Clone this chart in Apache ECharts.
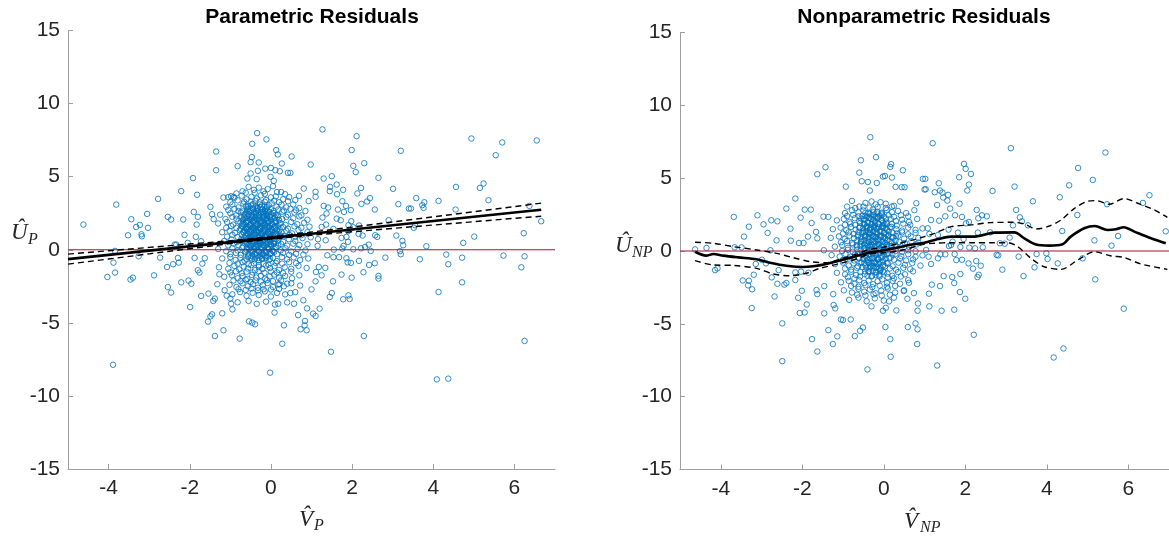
<!DOCTYPE html>
<html>
<head>
<meta charset="utf-8">
<script src="https://cdn.jsdelivr.net/npm/echarts@6/dist/echarts.min.js"></script>
<style>
  html, body { margin: 0; padding: 0; background: #fff; }
  #chart { width: 1169px; height: 541px; }
</style>
</head>
<body>
<div id="chart"></div>
<script>
// ---- parametric panel: scattered residuals ----
var pOuter = [
  [-4.62,1.72],[-3.81,3.09],[-3.89,-7.87],[-4.03,-1.86],[-3.84,-1.56],[-3.88,-0.88],[-3.84,-0.08],[-3.52,0.99],[-3.44,2.09],[-3.32,1.56],
  [-3.23,1.70],[-3.19,1.06],[-3.18,0.92],[-3.05,2.45],[-3.03,1.50],[-3.46,-2.04],[-3.40,-1.91],[-3.26,-0.45],[-2.88,-1.75],[-2.78,3.48],
  [-2.54,2.25],[-2.46,2.07],[-2.37,0.35],[-2.33,0.35],[-2.56,-1.18],[-2.41,-0.99],[-2.54,-2.55],[-2.46,-2.93],[-2.73,-0.54],[-2.29,-0.56],
  [-2.27,-0.88],[-2.21,4.01],[-2.16,2.07],[-2.13,1.02],[-2.21,-2.23],[-2.03,-2.11],[-1.96,-2.32],[-1.99,-3.92],[-1.92,4.90],[-1.82,3.76],
  [-1.90,2.59],[-1.80,2.25],[-1.83,1.72],[-1.85,0.88],[-1.72,0.58],[-2.05,0.47],[-1.88,-0.56],[-1.80,-1.40],[-1.76,-1.56],[-1.72,-3.16],
  [-1.63,-0.58],[-1.69,-0.95],[-1.55,-4.92],[-1.45,-4.42],[-1.49,-4.56],[-1.38,-5.90],[-1.35,6.72],[-1.35,5.44],[-1.49,2.93],[-1.45,2.43],
  [-1.41,2.09],[-1.42,-3.50],[-1.38,-3.34],[-1.54,-3.00],[-1.20,-4.35],[-1.17,-5.51],[-1.32,-2.36],[-1.27,-1.68],[-1.14,-2.77],[-1.09,-3.14],
  [-0.95,-4.08],[-0.98,-3.69],[-1.00,-3.34],[-0.77,-6.08],[-0.82,5.72],[-1.17,3.57],[-0.98,3.66],[-0.92,3.62],[-0.54,-4.90],[-0.46,-4.99],
  [-0.39,-5.10],[-0.34,7.98],[-0.11,7.55],[-0.46,7.25],[-0.02,-8.41],[0.28,-6.43],[0.32,-5.17],[0.09,-4.30],[0.18,-3.69],[0.13,6.82],
  [0.17,6.52],[0.27,5.90],[0.42,5.26],[0.48,5.26],[0.51,6.38],[0.22,5.37],[0.11,5.44],[0.00,5.60],[-0.01,4.99],[0.07,4.71],
  [-0.14,5.55],[-0.47,6.34],[-0.50,5.99],[-0.30,5.97],[-0.32,5.40],[-0.50,5.22],[-0.35,4.83],[-0.58,4.87],[0.98,5.83],[0.81,4.19],
  [0.69,3.69],[0.93,3.33],[0.89,-4.01],[0.80,-3.46],[0.67,-4.47],[0.84,-4.87],[0.73,-5.44],[0.88,-5.51],[0.83,-5.17],[0.57,-3.69],
  [0.48,-2.96],[0.21,-2.36],[0.40,-2.32],
  [1.27,8.23],[2.11,7.77],[1.99,6.82],[2.03,5.74],[2.09,5.31],[2.30,5.92],[3.20,6.77],[1.30,4.87],[1.50,5.03],[2.65,4.92],
  [3.01,4.17],[2.22,4.23],[2.13,3.85],[2.37,3.30],[2.44,3.53],[2.23,3.14],[2.56,2.75],[3.14,3.12],[3.40,2.82],[3.45,2.82],
  [3.58,3.53],[3.73,3.05],[3.78,3.25],[3.76,2.86],[4.13,3.34],[4.56,4.30],[4.55,2.75],[4.94,7.61],[5.15,4.23],[5.24,4.53],
  [5.36,3.39],[5.54,6.47],[5.70,7.34],[6.55,7.48],[6.37,3.00],[6.66,1.95],[6.23,1.13],[5.01,0.90],[4.74,0.47],[5.73,-0.40],
  [6.25,-0.45],[6.17,-1.20],[4.71,-0.54],[4.71,-2.23],[4.32,-0.33],[4.37,-0.99],[4.13,-2.89],[3.83,0.24],[3.67,-0.65],[3.52,1.50],
  [3.55,1.68],[2.90,2.02],[3.09,0.97],[3.24,0.61],[3.26,0.31],[3.18,-0.10],[3.20,-0.31],[2.82,-0.54],[2.65,-1.79],[2.65,-1.97],
  [2.56,-0.92],[2.42,-1.04],[2.28,-1.54],[1.99,-1.91],[1.74,-1.70],[1.53,-2.16],[1.50,-2.96],[1.45,-3.23],[1.78,-3.39],[1.91,-3.12],
  [1.94,-3.37],[2.29,-5.90],[1.48,-6.98],[4.09,-8.87],[4.37,-8.82],[6.25,-6.24],[1.20,-4.03],[1.10,-4.53],[1.04,-4.37],[1.10,-2.16],
  [1.00,-2.71],[1.11,-1.52],[1.18,-1.18],[1.25,-1.75],[1.34,-1.24],[1.39,-0.38],[1.54,-0.51],[1.68,-0.51],[1.86,-0.58],[1.89,-0.86],
  [1.97,-0.90],[2.17,-0.76],[2.46,-0.08],[2.32,0.19],[2.22,0.10],[2.03,0.03],[1.76,0.08],[1.55,0.01],[2.41,0.35],[2.62,0.88],
  [2.57,0.99],[2.26,0.97],[2.16,1.08],[2.17,1.66],[2.03,1.54],[1.91,1.68],[1.90,1.27],[1.97,2.71],[1.85,3.00],[1.76,3.32],
  [1.78,4.10],[1.63,3.80],[1.62,4.46],[1.46,4.30],[1.45,4.01],[1.10,3.96],[1.10,3.62],[1.30,3.00],[1.41,2.89],[1.65,2.75],
  [1.62,2.13],[1.80,2.59],[1.98,1.95],[1.72,2.02],[1.37,2.48],[1.27,2.20],[1.25,1.56],[1.36,1.72],[1.35,0.65],[1.54,1.43],
  [1.74,0.81],[1.90,0.54],[1.86,0.88],[1.79,0.26],[1.16,0.72],[1.15,0.26]
];

var pCore = [
  [-0.55,4.30],[-0.42,4.10],[-0.30,4.25],[-0.18,4.00],[-0.08,4.15],[0.05,4.35],[0.25,3.95],[-0.62,3.90],
  [-0.90,3.55],[-0.72,3.70],[-0.60,3.45],[-0.48,3.62],[-0.35,3.50],[-0.25,3.72],[-0.12,3.40],[0.00,3.58],[0.12,3.65],[0.30,3.45],[0.45,3.60],[-1.05,3.60],
  [-1.10,2.95],[-0.95,3.10],[-0.80,2.90],[-0.68,3.15],[-0.56,2.98],[-0.44,3.12],[-0.33,2.88],[-0.22,3.05],[-0.10,2.92],[0.02,3.18],[0.14,2.95],[0.26,3.08],[0.38,2.90],[0.55,3.10],[0.70,2.85],[-0.50,3.30],[-0.28,3.25],
  [-1.25,2.40],[-1.00,2.50],[-0.86,2.35],[-0.74,2.55],[-0.63,2.42],[-0.53,2.60],[-0.45,2.30],[-0.37,2.50],[-0.29,2.38],[-0.20,2.58],[-0.12,2.45],[-0.04,2.30],[0.06,2.52],[0.16,2.36],[0.28,2.60],[0.42,2.40],[0.58,2.55],[0.75,2.35],[-0.58,2.72],[-0.34,2.75],[-0.15,2.70],
  [-1.30,1.80],[-1.08,1.90],[-0.93,1.72],[-0.80,1.95],[-0.70,1.78],[-0.61,1.88],[-0.52,1.70],[-0.44,1.92],[-0.36,1.76],[-0.28,1.98],[-0.21,1.82],[-0.13,1.70],[-0.05,1.90],[0.04,1.75],[0.13,1.95],[0.24,1.80],[0.36,1.70],[0.50,1.90],[0.65,1.75],[0.82,1.85],[-0.48,2.10],[-0.30,2.15],[-0.10,2.12],[0.10,2.20],[-0.68,2.05],
  [-1.20,1.20],[-1.02,1.30],[-0.88,1.15],[-0.77,1.35],[-0.68,1.22],[-0.59,1.40],[-0.50,1.10],[-0.42,1.32],[-0.34,1.18],[-0.26,1.42],[-0.19,1.25],[-0.11,1.08],[-0.03,1.30],[0.06,1.15],[0.15,1.38],[0.26,1.20],[0.38,1.30],[0.52,1.12],[0.68,1.35],[0.90,1.20],[-0.55,1.55],[-0.38,1.58],[-0.22,1.60],[-0.05,1.55],[0.10,1.58],[-0.72,1.60],
  [-1.15,0.60],[-0.97,0.70],[-0.84,0.52],[-0.73,0.75],[-0.64,0.62],[-0.55,0.80],[-0.47,0.50],[-0.39,0.72],[-0.31,0.58],[-0.23,0.82],[-0.16,0.65],[-0.08,0.50],[0.00,0.78],[0.09,0.60],[0.19,0.85],[0.30,0.55],[0.44,0.72],[0.60,0.60],[0.78,0.80],[-0.60,0.95],[-0.42,0.92],[-0.26,0.98],[-0.10,0.92],[0.05,1.00],[0.22,0.95],
  [-1.30,0.05],[-1.10,-0.10],[-0.95,0.12],[-0.82,-0.05],[-0.71,0.15],[-0.62,-0.12],[-0.53,0.08],[-0.45,-0.06],[-0.37,0.18],[-0.29,-0.10],[-0.21,0.10],[-0.13,-0.15],[-0.05,0.05],[0.04,-0.08],[0.13,0.16],[0.24,-0.04],[0.36,0.10],[0.50,-0.12],[0.66,0.06],[0.85,-0.05],[-0.50,0.32],[-0.33,0.35],[-0.17,0.30],[0.00,0.38],[0.18,0.28],
  [-1.20,-0.60],[-1.00,-0.50],[-0.87,-0.70],[-0.75,-0.55],[-0.65,-0.75],[-0.56,-0.48],[-0.47,-0.66],[-0.38,-0.52],[-0.30,-0.72],[-0.22,-0.58],[-0.14,-0.45],[-0.05,-0.68],[0.05,-0.55],[0.15,-0.78],[0.27,-0.50],[0.40,-0.65],[0.56,-0.52],[0.72,-0.70],[0.92,-0.60],[-0.40,-0.30],[-0.20,-0.32],[0.00,-0.28],
  [-1.28,-1.20],[-1.05,-1.30],[-0.90,-1.10],[-0.78,-1.35],[-0.67,-1.15],[-0.57,-1.28],[-0.48,-1.05],[-0.39,-1.40],[-0.30,-1.18],[-0.21,-1.32],[-0.12,-1.08],[-0.02,-1.25],[0.09,-1.12],[0.20,-1.38],[0.34,-1.20],[0.50,-1.30],[0.68,-1.10],[0.88,-1.25],
  [-1.15,-1.85],[-0.96,-1.75],[-0.82,-1.95],[-0.70,-1.80],[-0.58,-2.00],[-0.47,-1.72],[-0.36,-1.90],[-0.25,-1.78],[-0.14,-1.98],[-0.03,-1.82],[0.08,-1.70],[0.20,-1.92],[0.35,-1.80],[0.52,-1.95],[0.70,-1.75],
  [-1.02,-2.40],[-0.85,-2.55],[-0.70,-2.30],[-0.57,-2.50],[-0.44,-2.35],[-0.32,-2.60],[-0.20,-2.42],[-0.08,-2.28],[0.05,-2.55],[0.18,-2.38],[0.32,-2.50],[0.50,-2.30],[0.72,-2.45],
  [-0.95,-3.05],[-0.76,-2.90],[-0.60,-3.15],[-0.45,-2.95],[-0.30,-3.10],[-0.15,-2.85],[0.00,-3.20],[0.15,-2.95],[0.35,-3.05],[0.60,-2.90],
  [-0.82,-3.60],[-0.55,-3.50],[-0.35,-3.70],[-0.12,-3.55],[0.10,-3.75],[0.40,-3.60],
  [-0.66,2.20],[-0.57,2.00],[-0.49,2.25],[-0.41,2.05],[-0.33,2.28],[-0.24,1.95],[-0.17,2.30],[-0.08,2.00],[0.02,2.22],[-0.62,1.45],
  [-0.52,1.30],[-0.45,1.50],[-0.37,1.35],[-0.30,1.50],[-0.23,1.05],[-0.15,1.48],[-0.07,1.22],[0.01,1.42],[0.12,1.05],[-0.58,0.40],
  [-0.50,0.62],[-0.43,0.40],[-0.35,0.52],[-0.27,0.38],[-0.19,0.50],[-0.11,0.35],[-0.02,0.55],[0.08,0.40],[-0.45,2.85],[-0.36,2.62],
  [-0.26,2.90],[-0.18,2.52],[-0.58,2.90],[-0.08,2.65],[-0.40,1.00],[-0.30,0.85],[-0.20,1.12],[-0.12,0.85],[-0.48,0.88],[-0.56,1.05]
];

// medium-density ring around the blob
var pMid = [
  [-0.85,3.85],[-0.70,4.00],[-0.40,3.90],[-0.15,3.82],[0.15,3.95],[0.35,3.80],
  [-1.00,3.25],[-0.82,3.38],[-0.66,3.28],[-0.38,3.35],[-0.15,3.28],[0.08,3.36],[0.20,3.25],[0.42,3.32],[0.60,3.40],
  [-1.05,2.72],[-0.90,2.80],[-0.80,2.65],[0.18,2.75],[0.32,2.68],[0.48,2.80],[0.62,2.70],[0.85,2.65],
  [-1.12,2.10],[-0.95,2.25],[-0.85,2.12],[0.28,2.10],[0.38,2.25],[0.55,2.15],[0.70,2.28],[0.90,2.05],
  [-1.10,1.50],[-0.98,1.62],[-0.85,1.50],[0.30,1.55],[0.42,1.45],[0.58,1.60],[0.75,1.50],[0.95,1.58],
  [-1.08,0.90],[-0.95,1.02],[-0.82,0.88],[0.32,0.92],[0.45,1.02],[0.60,0.88],[0.75,1.00],[0.98,0.85],
  [-1.05,0.30],[-0.92,0.42],[-0.80,0.30],[0.25,0.40],[0.40,0.28],[0.55,0.42],[0.70,0.32],[0.90,0.38],
  [-1.00,-0.30],[-0.86,-0.22],[-0.74,-0.35],[0.15,-0.30],[0.30,-0.22],[0.45,-0.35],[0.62,-0.28],[0.80,-0.33],
  [-1.02,-0.90],[-0.82,-0.95],[-0.70,-0.85],[0.12,-0.90],[0.28,-0.95],[0.45,-0.85],[0.62,-0.92],
  [-1.00,-1.55],[-0.86,-1.48],[-0.72,-1.60],[-0.60,-1.50],[-0.45,-1.55],[-0.30,-1.48],[-0.16,-1.58],[0.00,-1.50],[0.15,-1.55],[0.30,-1.60],[0.50,-1.50],
  [-0.92,-2.10],[-0.75,-2.15],[-0.62,-2.05],[-0.50,-2.20],[-0.38,-2.10],[-0.25,-2.18],[-0.10,-2.08],[0.05,-2.15],[0.25,-2.10],
  [-0.80,-2.70],[-0.62,-2.75],[-0.48,-2.65],[-0.32,-2.78],[-0.18,-2.70],[0.00,-2.72],[0.20,-2.68]
];

// the solid blue blob in the middle of the parametric cloud
var pDense = [
  [-0.62,2.98],[-0.48,3.05],[-0.38,2.95],[-0.27,3.10],[-0.16,2.97],[-0.05,3.04],
  [-0.56,2.80],[-0.44,2.78],[-0.33,2.84],[-0.21,2.76],[-0.10,2.82],[0.00,2.78],
  [-0.70,2.62],[-0.60,2.55],[-0.51,2.68],[-0.42,2.58],[-0.33,2.66],[-0.24,2.55],[-0.14,2.63],[-0.04,2.57],[0.07,2.64],
  [-0.66,2.40],[-0.56,2.45],[-0.47,2.37],[-0.37,2.43],[-0.28,2.35],[-0.19,2.44],[-0.09,2.36],[0.01,2.42],[0.12,2.38],
  [-0.72,2.24],[-0.63,2.15],[-0.55,2.30],[-0.46,2.18],[-0.38,2.22],[-0.29,2.12],[-0.20,2.26],[-0.11,2.16],[-0.02,2.25],[0.08,2.14],[0.18,2.28],
  [-0.70,2.00],[-0.60,1.96],[-0.51,2.04],[-0.43,1.97],[-0.34,2.03],[-0.26,1.95],[-0.17,2.05],[-0.09,1.96],[0.00,2.02],[0.10,1.95],[0.20,2.03],
  [-0.75,1.84],[-0.66,1.78],[-0.57,1.86],[-0.49,1.76],[-0.40,1.83],[-0.32,1.74],[-0.24,1.88],[-0.16,1.79],[-0.07,1.85],[0.02,1.77],[0.11,1.86],[0.21,1.80],
  [-0.70,1.60],[-0.61,1.55],[-0.52,1.64],[-0.44,1.56],[-0.36,1.62],[-0.27,1.54],[-0.19,1.65],[-0.10,1.57],[-0.02,1.63],[0.07,1.55],[0.17,1.62],
  [-0.74,1.42],[-0.65,1.35],[-0.56,1.46],[-0.48,1.38],[-0.40,1.44],[-0.31,1.36],[-0.23,1.47],[-0.15,1.37],[-0.06,1.43],[0.03,1.35],[0.12,1.46],[0.22,1.40],
  [-0.68,1.20],[-0.60,1.15],[-0.51,1.24],[-0.42,1.16],[-0.34,1.22],[-0.26,1.14],[-0.17,1.25],[-0.08,1.16],[0.01,1.22],[0.10,1.14],[0.19,1.23],
  [-0.72,1.02],[-0.63,0.95],[-0.55,1.06],[-0.46,0.97],[-0.38,1.04],[-0.30,0.96],[-0.21,1.05],[-0.13,0.97],[-0.04,1.03],[0.05,0.94],[0.14,1.05],[0.24,0.98],
  [-0.66,0.80],[-0.57,0.75],[-0.48,0.84],[-0.40,0.76],[-0.31,0.82],[-0.23,0.74],[-0.14,0.85],[-0.05,0.76],[0.04,0.82],[0.14,0.74],
  [-0.70,0.62],[-0.61,0.55],[-0.52,0.66],[-0.44,0.57],[-0.36,0.64],[-0.27,0.55],[-0.19,0.66],[-0.10,0.57],[-0.01,0.63],[0.08,0.54],[0.18,0.65],
  [-0.63,0.40],[-0.54,0.35],[-0.46,0.44],[-0.37,0.36],[-0.29,0.42],[-0.20,0.34],[-0.12,0.45],[-0.03,0.36],[0.06,0.42],
  [-0.68,0.22],[-0.59,0.15],[-0.50,0.26],[-0.42,0.17],[-0.33,0.24],[-0.25,0.14],[-0.16,0.25],[-0.08,0.16],[0.01,0.23],[0.11,0.15],
  [-0.60,0.00],[-0.50,-0.05],[-0.41,0.04],[-0.33,-0.04],[-0.24,0.02],[-0.15,-0.06],[-0.06,0.03],[0.04,-0.04],
  [-0.64,-0.18],[-0.55,-0.25],[-0.46,-0.15],[-0.37,-0.23],[-0.29,-0.16],[-0.20,-0.26],[-0.11,-0.17],[-0.02,-0.24],[0.08,-0.15],
  [-0.55,-0.40],[-0.45,-0.45],[-0.35,-0.36],[-0.26,-0.44],[-0.17,-0.38],[-0.07,-0.46],
  [-0.60,-0.62],[-0.50,-0.55],[-0.40,-0.66],[-0.31,-0.57],[-0.22,-0.64],[-0.12,-0.55],[-0.02,-0.63],
  [-0.55,-1.00],[-0.42,-0.94],[-0.30,-1.05],[-0.18,-0.96],[-0.06,-1.02]
];

// parametric fit and its band
var pLineX  = [-5, -4, -3, -2, -1, 0, 1, 2, 3, 4, 5, 6, 6.66];
var pFit    = [-0.64, -0.35, -0.06, 0.23, 0.52, 0.81, 1.10, 1.39, 1.68, 1.97, 2.26, 2.55, 2.74];
var pUpper  = [-0.30, -0.07, 0.16, 0.39, 0.62, 0.89, 1.21, 1.55, 1.90, 2.25, 2.60, 2.95, 3.19];
var pLower  = [-0.98, -0.63, -0.28, 0.07, 0.42, 0.73, 0.99, 1.23, 1.46, 1.69, 1.92, 2.15, 2.29];

// ---- nonparametric panel ----
var npOuter = [
  [-4.63,0.11],[-4.35,0.21],[-4.14,-1.31],[-4.08,-1.19],[-3.68,2.34],[-3.43,0.99],[-3.31,1.67],[-3.66,0.25],[-3.49,0.25],[-3.46,-2.02],
  [-3.33,-2.36],[-3.31,-2.04],[-3.23,-2.63],[-3.24,-3.92],[-3.19,-1.63],[-3.14,-0.89],[-3.10,2.45],[-2.95,1.83],[-2.85,1.24],[-2.76,2.11],
  [-2.61,2.04],[-2.63,0.73],[-2.78,0.05],[-2.99,-0.60],[-2.89,-0.85],[-2.75,-1.81],[-2.61,-2.25],[-2.68,-3.12],[-2.58,-1.31],[-2.44,-2.31],
  [-2.39,-2.20],[-2.49,-4.97],[-2.49,-7.56],[-2.39,2.91],[-2.17,3.60],[-2.29,1.53],[-2.28,0.71],[-2.04,2.29],[-1.94,2.84],[-1.79,2.84],
  [-1.77,1.92],[-2.08,0.55],[-1.97,0.55],[-1.86,0.99],[-2.17,-1.47],[-2.17,-1.99],[-2.03,-1.42],[-2.01,-2.73],[-2.10,-3.21],[-2.06,-4.26],
  [-1.94,-4.22],[-1.89,-3.67],[-1.85,-1.49],[-1.76,-6.05],[-1.63,5.27],[-1.43,5.75],[-1.66,1.31],[-1.63,0.87],[-1.48,2.36],[-1.36,2.34],
  [-1.47,0.05],[-1.65,-2.68],[-1.63,-2.96],[-1.46,-4.28],[-1.63,-6.90],[-1.36,-5.43],[-1.25,-6.39],[-1.14,-5.86],[-1.23,-3.71],[-1.46,-2.41],
  [-1.24,-2.96],[-1.19,-3.94],[-1.05,-4.70],[-0.93,4.42],[-0.78,3.44],[-0.90,3.05],[-0.56,6.23],[-0.33,7.81],[-0.19,6.44],[-0.60,5.38],
  [-0.54,4.79],[-0.39,4.74],[-0.17,4.67],[-0.34,4.15],[-0.40,-8.13],[0.17,-7.26],[0.16,-6.05],[0.04,-5.22],[-0.51,-5.25],[-0.58,-5.48],
  [-0.71,-5.84],[-0.81,-4.70],[-1.00,-4.74],[-0.02,5.11],[0.03,5.15],[0.18,5.96],[0.20,5.04],[0.16,5.77],[0.47,5.54],[0.29,4.40],
  [0.44,4.38],[0.51,4.38],[0.80,3.28],[0.96,4.95],[1.00,4.22],[0.59,-5.22],[0.82,-6.39],[0.78,-4.97],[0.83,-5.38],[0.83,-4.10],
  [0.84,-3.60],[0.31,-4.08],[0.13,-3.46],[-0.02,-4.10],[0.74,-2.89],[0.58,-3.28],[0.62,-2.18],[0.49,-2.75],
  [1.20,7.40],[3.12,7.06],[5.44,6.76],[4.77,5.70],[5.13,4.88],[4.55,4.51],[6.52,3.83],[6.36,3.30],[5.48,3.21],[4.32,3.69],
  [4.75,2.47],[6.92,1.35],[5.75,1.03],[5.17,0.73],[5.59,0.37],[4.38,1.37],[3.66,3.41],[3.21,4.42],[2.67,4.12],[3.25,2.82],
  [3.34,2.31],[3.39,2.04],[3.54,1.76],[3.17,1.76],[3.09,0.92],[2.85,0.53],[2.97,0.50],[2.77,-0.27],[2.81,-0.30],[3.31,-0.39],
  [2.91,-1.28],[3.43,-1.72],[3.70,-1.12],[3.75,-0.21],[3.99,-0.16],[4.02,-0.55],[4.27,-0.85],[4.88,-0.50],[5.19,-1.95],[5.89,-3.96],
  [4.17,-7.31],[4.41,-6.69],[2.21,-5.75],[1.31,-7.86],[1.42,-4.10],[1.73,-4.03],[1.12,-3.80],[1.11,-2.93],[2.00,-3.28],[1.87,-2.82],
  [1.38,-2.41],[1.18,-2.31],[1.47,-1.72],[1.68,-1.79],[1.73,-2.20],[1.88,-1.58],[2.30,-1.79],[2.33,-1.63],[2.38,-1.01],[2.27,-0.69],
  [2.08,-0.85],[2.19,-1.21],[1.92,-0.60],[1.78,-0.62],[1.74,-0.21],[1.51,-0.23],[1.39,-0.23],[1.16,-0.89],[1.33,-0.50],[1.97,5.98],
  [2.01,5.64],[2.14,5.29],[1.85,5.06],[1.35,4.65],[1.38,4.15],[1.44,4.01],[1.25,4.03],[1.58,3.85],[1.46,3.67],[1.56,3.46],
  [1.31,3.16],[1.63,2.91],[1.86,3.25],[2.05,4.15],[2.09,4.56],[1.03,4.24],[1.02,4.95],[1.75,2.45],[1.92,2.34],[2.09,1.99],
  [2.02,1.90],[2.28,2.82],[2.41,2.45],[2.32,2.25],[2.53,2.38],[2.31,1.26],[2.61,1.28],[2.24,0.18],[2.43,0.25],[2.10,0.23],
  [1.88,0.27],[1.96,0.82],[1.82,1.26],[1.51,2.38],[1.16,2.13],[1.36,2.08],[1.08,1.56],[1.12,1.17],[1.59,1.47],[1.33,1.10],
  [1.60,0.34],[1.65,0.41],[1.69,0.64],[1.10,-0.39],[1.04,0.07]
];

var npCore = [
  [-0.45,3.30],[-0.30,3.40],[-0.20,3.20],[-0.08,3.35],[0.05,3.25],[0.25,3.10],[-0.60,3.05],[0.40,3.40],
  [-0.95,2.60],[-0.78,2.80],[-0.62,2.65],[-0.50,2.78],[-0.38,2.60],[-0.27,2.85],[-0.16,2.70],[-0.05,2.58],[0.07,2.82],[0.20,2.66],[0.35,2.75],[0.55,2.60],[0.75,2.80],
  [-1.15,2.10],[-0.98,2.20],[-0.84,2.00],[-0.71,2.25],[-0.60,2.05],[-0.49,2.18],[-0.40,1.98],[-0.31,2.20],[-0.22,2.04],[-0.13,2.28],[-0.04,2.10],[0.06,1.96],[0.17,2.22],[0.30,2.05],[0.45,2.15],[0.62,2.00],[0.82,2.20],
  [-1.25,1.50],[-1.06,1.60],[-0.92,1.42],[-0.80,1.65],[-0.69,1.48],[-0.59,1.62],[-0.50,1.40],[-0.42,1.58],[-0.34,1.45],[-0.26,1.68],[-0.18,1.52],[-0.10,1.38],[-0.02,1.60],[0.08,1.45],[0.19,1.66],[0.31,1.50],[0.45,1.40],[0.60,1.60],[0.78,1.45],[0.95,1.55],[-0.47,1.85],[-0.30,1.80],[-0.14,1.88],[0.02,1.82],
  [-1.30,0.90],[-1.10,1.00],[-0.96,0.82],[-0.84,1.05],[-0.73,0.88],[-0.63,1.10],[-0.54,0.80],[-0.46,1.00],[-0.38,0.86],[-0.30,1.12],[-0.22,0.95],[-0.14,0.80],[-0.06,1.04],[0.03,0.88],[0.12,1.10],[0.23,0.92],[0.36,1.05],[0.50,0.85],[0.66,1.00],[0.85,0.90],[-0.50,1.25],[-0.34,1.22],[-0.18,1.28],[0.00,1.25],
  [-1.20,0.30],[-1.02,0.40],[-0.88,0.22],[-0.76,0.45],[-0.66,0.30],[-0.57,0.50],[-0.48,0.20],[-0.40,0.42],[-0.32,0.26],[-0.24,0.50],[-0.17,0.35],[-0.09,0.20],[0.00,0.45],[0.09,0.30],[0.20,0.52],[0.32,0.25],[0.46,0.40],[0.62,0.28],[0.80,0.45],[-0.55,0.65],[-0.36,0.62],[-0.20,0.68],[-0.04,0.62],[0.14,0.66],
  [-1.28,-0.28],[-1.08,-0.38],[-0.94,-0.20],[-0.82,-0.40],[-0.71,-0.25],[-0.61,-0.45],[-0.52,-0.18],[-0.44,-0.35],[-0.36,-0.22],[-0.28,-0.48],[-0.20,-0.30],[-0.12,-0.15],[-0.03,-0.38],[0.07,-0.24],[0.17,-0.46],[0.29,-0.20],[0.43,-0.36],[0.60,-0.22],[0.78,-0.40],[0.95,-0.30],[-0.45,0.02],[-0.25,0.00],[-0.06,0.05],
  [-1.20,-0.90],[-1.00,-0.80],[-0.86,-1.00],[-0.74,-0.85],[-0.63,-1.05],[-0.54,-0.78],[-0.45,-0.96],[-0.36,-0.82],[-0.27,-1.02],[-0.18,-0.88],[-0.10,-0.75],[-0.01,-0.98],[0.10,-0.85],[0.22,-1.05],[0.36,-0.80],[0.52,-0.95],[0.70,-0.82],[0.90,-1.00],[-0.40,-0.60],[-0.15,-0.58],
  [-1.15,-1.50],[-0.95,-1.60],[-0.80,-1.42],[-0.68,-1.65],[-0.57,-1.45],[-0.47,-1.58],[-0.38,-1.38],[-0.29,-1.70],[-0.20,-1.48],[-0.11,-1.62],[-0.02,-1.40],[0.09,-1.55],[0.21,-1.70],[0.35,-1.45],[0.52,-1.60],[0.72,-1.40],[-0.35,-1.20],[-0.12,-1.22],
  [-1.05,-2.15],[-0.86,-2.05],[-0.72,-2.25],[-0.60,-2.00],[-0.48,-2.20],[-0.37,-2.02],[-0.26,-2.28],[-0.15,-2.08],[-0.04,-1.95],[0.08,-2.20],[0.22,-2.05],[0.40,-2.25],[0.60,-2.00],
  [-0.98,-2.70],[-0.78,-2.85],[-0.62,-2.60],[-0.48,-2.80],[-0.34,-2.65],[-0.20,-2.90],[-0.06,-2.72],[0.10,-2.58],[0.28,-2.85],[0.50,-2.70],
  [-0.85,-3.35],[-0.62,-3.20],[-0.42,-3.45],[-0.22,-3.25],[0.00,-3.40],[0.25,-3.20],[-0.30,-3.80],[0.05,-3.90],
  [-0.45,2.40],[-0.35,2.30],[-0.25,2.45],[-0.15,2.35],[-0.05,2.50],[-0.42,1.70],[-0.32,1.62],[-0.22,1.75],[-0.12,1.65],[-0.02,1.72],
  [-0.44,1.05],[-0.36,1.15],[-0.26,1.02],[-0.16,1.14],[-0.08,0.95],[0.06,1.15],[-0.42,0.55],[-0.34,0.38],[-0.26,0.62],[-0.14,0.48],
  [-0.06,0.30],[0.04,0.55],[-0.40,-0.10],[-0.30,0.08],[-0.18,-0.12],[-0.10,0.10],[0.02,-0.08],[-0.38,-0.60],[-0.24,-0.72],[-0.14,-0.52],
  [-0.02,-0.65],[-0.32,-1.05],[-0.20,-1.15],[-0.08,-1.30]
];

var npMid = [
  [-0.70,2.95],[-0.50,3.05],[-0.35,2.98],[-0.15,3.02],[0.05,2.95],[0.20,3.05],
  [-0.90,2.40],[-0.75,2.48],[-0.62,2.38],[0.12,2.45],[0.25,2.35],[0.42,2.45],[0.60,2.38],
  [-0.95,1.80],[-0.82,1.88],[-0.70,1.78],[0.20,1.85],[0.32,1.75],[0.48,1.88],[0.65,1.80],
  [-1.00,1.20],[-0.86,1.28],[-0.74,1.16],[0.32,1.20],[0.45,1.28],[0.60,1.15],[0.78,1.25],
  [-1.05,0.60],[-0.90,0.68],[-0.78,0.55],[0.38,0.62],[0.52,0.55],[0.68,0.66],[0.85,0.58],
  [-1.02,0.00],[-0.88,0.08],[-0.76,-0.05],[0.30,0.02],[0.45,-0.06],[0.60,0.05],[0.78,-0.02],
  [-1.00,-0.60],[-0.85,-0.52],[-0.72,-0.65],[0.25,-0.60],[0.40,-0.52],[0.55,-0.65],[0.72,-0.58],
  [-0.95,-1.20],[-0.80,-1.28],[-0.66,-1.15],[0.15,-1.20],[0.30,-1.28],[0.48,-1.15],[0.65,-1.25],
  [-0.88,-1.80],[-0.72,-1.88],[-0.58,-1.75],[0.10,-1.80],[0.25,-1.88],[0.42,-1.75],
  [-0.80,-2.40],[-0.62,-2.45],[-0.45,-2.35],[-0.28,-2.48],[-0.10,-2.38],[0.08,-2.45],[0.28,-2.40],
  [-0.65,-3.00],[-0.45,-3.05],[-0.25,-2.98],[-0.05,-3.05],[0.15,-3.00]
];

// the solid blue blob of the nonparametric cloud
var npDense = [
  [-0.45,2.62],[-0.35,2.55],[-0.25,2.66],[-0.15,2.57],[-0.05,2.63],
  [-0.52,2.40],[-0.41,2.36],[-0.30,2.44],[-0.20,2.35],[-0.10,2.42],[0.00,2.37],
  [-0.55,2.22],[-0.46,2.15],[-0.36,2.26],[-0.26,2.17],[-0.16,2.24],[-0.06,2.14],[0.05,2.23],
  [-0.58,1.92],[-0.48,1.85],[-0.39,1.95],[-0.30,1.87],[-0.21,1.94],[-0.12,1.85],[-0.02,1.93],[0.08,1.86],
  [-0.60,1.60],[-0.51,1.55],[-0.42,1.64],[-0.33,1.56],[-0.24,1.62],[-0.15,1.54],[-0.05,1.65],[0.05,1.57],[0.15,1.63],
  [-0.62,1.30],[-0.53,1.25],[-0.44,1.34],[-0.35,1.26],[-0.26,1.32],[-0.17,1.24],[-0.08,1.35],[0.02,1.27],[0.12,1.33],[0.22,1.25],
  [-0.64,1.00],[-0.55,0.95],[-0.46,1.04],[-0.37,0.96],[-0.28,1.02],[-0.19,0.94],[-0.10,1.05],[0.00,0.96],[0.10,1.03],[0.20,0.95],[0.30,1.02],
  [-0.65,0.70],[-0.56,0.65],[-0.47,0.74],[-0.38,0.66],[-0.29,0.72],[-0.20,0.64],[-0.11,0.75],[-0.01,0.66],[0.09,0.73],[0.19,0.65],[0.29,0.72],
  [-0.66,0.40],[-0.57,0.35],[-0.48,0.44],[-0.39,0.36],[-0.30,0.42],[-0.21,0.34],[-0.12,0.45],[-0.02,0.36],[0.08,0.43],[0.18,0.35],[0.28,0.42],
  [-0.65,0.10],[-0.56,0.05],[-0.47,0.14],[-0.38,0.06],[-0.29,0.12],[-0.20,0.04],[-0.11,0.15],[-0.01,0.06],[0.09,0.13],[0.19,0.05],
  [-0.63,-0.20],[-0.54,-0.25],[-0.45,-0.16],[-0.36,-0.24],[-0.27,-0.18],[-0.18,-0.26],[-0.09,-0.15],[0.01,-0.24],[0.11,-0.17],[0.21,-0.25],
  [-0.60,-0.50],[-0.51,-0.55],[-0.42,-0.46],[-0.33,-0.54],[-0.24,-0.48],[-0.15,-0.56],[-0.06,-0.45],[0.04,-0.53],[0.14,-0.47],
  [-0.57,-0.80],[-0.48,-0.85],[-0.39,-0.76],[-0.30,-0.84],[-0.21,-0.78],[-0.12,-0.86],[-0.03,-0.75],[0.07,-0.83],
  [-0.52,-1.10],[-0.43,-1.15],[-0.34,-1.06],[-0.25,-1.14],[-0.16,-1.08],[-0.07,-1.16],[0.03,-1.05],
  [-0.46,-1.40],[-0.36,-1.45],[-0.27,-1.36],[-0.18,-1.44],[-0.09,-1.38],[0.01,-1.46],
  [-0.40,-1.70],[-0.30,-1.75],[-0.20,-1.66],[-0.10,-1.74]
];

// nonparametric fit and its band
var npFitX = [-4.63, -4.36, -4.18, -3.94, -3.57, -3.12, -2.79, -2.39, -1.98, -1.73, -1.41, -1.08, -0.75, -0.42, -0.10, 0.23, 0.64, 1.00, 1.33, 1.65, 2.23, 2.72, 3.21, 3.45, 3.74, 4.06, 4.37, 4.59, 4.92, 5.18, 5.49, 5.70, 5.89, 6.15, 6.56, 6.92];
var npFit  = [-0.05, -0.32, -0.21, -0.32, -0.44, -0.57, -0.80, -1.01, -1.10, -1.05, -0.89, -0.66, -0.41, -0.16, 0.00, 0.18, 0.41, 0.57, 0.82, 0.99, 0.99, 1.26, 1.28, 0.87, 0.44, 0.37, 0.44, 0.99, 1.56, 1.72, 1.44, 1.49, 1.63, 1.33, 0.87, 0.53];
var npUpX  = [-4.63, -4.18, -3.69, -3.12, -2.63, -2.22, -1.81, -1.41, -1.00, -0.67, -0.34, -0.02, 0.31, 0.72, 1.00, 1.25, 1.65, 2.14, 2.63, 3.17, 3.45, 3.74, 4.02, 4.35, 4.68, 5.00, 5.21, 5.53, 5.90, 6.23, 6.64, 6.96];
var npUp   = [0.60, 0.53, 0.30, 0.07, -0.16, -0.46, -0.73, -0.80, -0.50, -0.21, 0.11, 0.25, 0.48, 0.76, 0.99, 1.21, 1.67, 1.79, 1.95, 1.97, 1.86, 1.51, 1.67, 2.13, 2.93, 3.41, 3.46, 3.21, 3.60, 3.28, 2.82, 2.31];
var npLoX  = [-4.63, -4.18, -3.69, -3.12, -2.71, -2.30, -1.90, -1.57, -1.16, -0.75, -0.34, 0.07, 0.47, 1.00, 1.25, 1.65, 2.23, 2.63, 3.04, 3.29, 3.61, 3.94, 4.35, 4.76, 5.17, 5.58, 5.90, 6.31, 6.96];
var npLo   = [-0.66, -0.96, -0.99, -1.19, -1.58, -1.70, -1.53, -1.19, -0.92, -0.62, -0.21, -0.11, 0.07, 0.48, 0.53, 0.57, 0.57, 0.57, 0.57, 0.30, -0.50, -1.08, -1.26, -0.62, -0.05, -0.34, -0.44, -0.89, -1.26];

var xTicks = [-4, -2, 0, 2, 4, 6];
var zeroSpan = [-5, 7];

var BLUE = '#0072BD', AXIS = '#9f9f9f', TXT = '#262626', RED = '#A2142F';
var SANS = '"Liberation Sans", Arial, Helvetica, sans-serif';
var SERIF = '"Liberation Serif", "Times New Roman", serif';

function pairs(xs, ys) {
  return xs.map(function (x, i) { return [x, ys[i]]; });
}

function makeX(idx) {
  return {
    gridIndex: idx, type: 'value', min: -5, max: 7,
    axisLine: { show: true, onZero: false, lineStyle: { color: AXIS, width: 1 } },
    axisTick: { show: true, inside: true, length: 5, customValues: xTicks, lineStyle: { color: AXIS } },
    axisLabel: { customValues: xTicks, color: TXT, fontSize: 21, fontFamily: SANS, margin: 9 },
    splitLine: { show: false }
  };
}

function makeY(idx) {
  return {
    gridIndex: idx, type: 'value', min: -15, max: 15, interval: 5,
    axisLine: { show: true, onZero: false, lineStyle: { color: AXIS, width: 1 } },
    axisTick: { show: true, inside: true, length: 5, lineStyle: { color: AXIS } },
    axisLabel: { color: TXT, fontSize: 21, fontFamily: SANS, margin: 8 },
    splitLine: { show: false }
  };
}

function scatterSeries(idx, data) {
  return {
    type: 'scatter', xAxisIndex: idx, yAxisIndex: idx, data: data,
    symbol: 'circle', symbolSize: 5.5,
    itemStyle: { color: 'rgba(0,0,0,0)', borderColor: BLUE, borderWidth: 1 },
    silent: true, z: 2
  };
}

function lineSeries(idx, data, dashed, smooth) {
  return {
    type: 'line', xAxisIndex: idx, yAxisIndex: idx, data: data,
    showSymbol: false, symbol: 'none', smooth: smooth, silent: true, z: 4,
    lineStyle: dashed ? { color: '#000', width: 1.4, type: [6, 4] } : { color: '#000', width: 2.6 }
  };
}

function zeroSeries(idx) {
  return {
    type: 'line', xAxisIndex: idx, yAxisIndex: idx, data: pairs(zeroSpan, [0, 0]),
    showSymbol: false, symbol: 'none', silent: true, z: 3,
    color: RED,
    itemStyle: { color: RED },
    lineStyle: { color: RED, width: 1.2, opacity: 1 }
  };
}

function label(x, y, main, sub, dx, dy) {
  return [
    { type: 'text', x: x, y: y, silent: true,
      style: { text: main, font: 'italic 23px ' + SERIF, fill: TXT, align: 'left', verticalAlign: 'middle', textAlign: 'left', textVerticalAlign: 'middle' } },
    { type: 'text', x: x + dx, y: y + dy, silent: true,
      style: { text: sub, font: 'italic 16px ' + SERIF, fill: TXT, align: 'left', verticalAlign: 'middle', textAlign: 'left', textVerticalAlign: 'middle' } }
  ];
}

function title(x, text) {
  return { type: 'text', x: x, y: 17, silent: true,
    style: { text: text, font: 'bold 21px ' + SANS, fill: '#000', align: 'center', verticalAlign: 'middle', textAlign: 'center', textVerticalAlign: 'middle' } };
}

var chart = echarts.init(document.getElementById('chart'), null, { renderer: 'canvas' });
var graphics = [title(312, 'Parametric Residuals'), title(924, 'Nonparametric Residuals')]
  .concat(label(11, 233, '\u00DB', 'P', 17, 7))
  .concat(label(615, 246, '\u00DB', 'NP', 17, 7))
  .concat(label(299, 520, 'V\u0302', 'P', 15, 6))
  .concat(label(904, 522, 'V\u0302', 'NP', 16, 6));

chart.setOption({
  animation: false,
  backgroundColor: '#fff',
  grid: [
    { left: 68, top: 30.5, width: 487, height: 438.5 },
    { left: 680, top: 32.5, width: 489, height: 437 }
  ],
  xAxis: [makeX(0), makeX(1)],
  yAxis: [makeY(0), makeY(1)],
  graphic: graphics,
  series: [
    scatterSeries(0, pOuter),
    scatterSeries(0, pCore),
    scatterSeries(0, pMid),
    scatterSeries(0, pDense),
    zeroSeries(0),
    lineSeries(0, pairs(pLineX, pUpper), true, false),
    lineSeries(0, pairs(pLineX, pLower), true, false),
    lineSeries(0, pairs(pLineX, pFit), false, false),
    scatterSeries(1, npOuter),
    scatterSeries(1, npCore),
    scatterSeries(1, npMid),
    scatterSeries(1, npDense),
    zeroSeries(1),
    lineSeries(1, pairs(npUpX, npUp), true, 0.3),
    lineSeries(1, pairs(npLoX, npLo), true, 0.3),
    lineSeries(1, pairs(npFitX, npFit), false, 0.3)
  ]
});
</script>
</body>
</html>
